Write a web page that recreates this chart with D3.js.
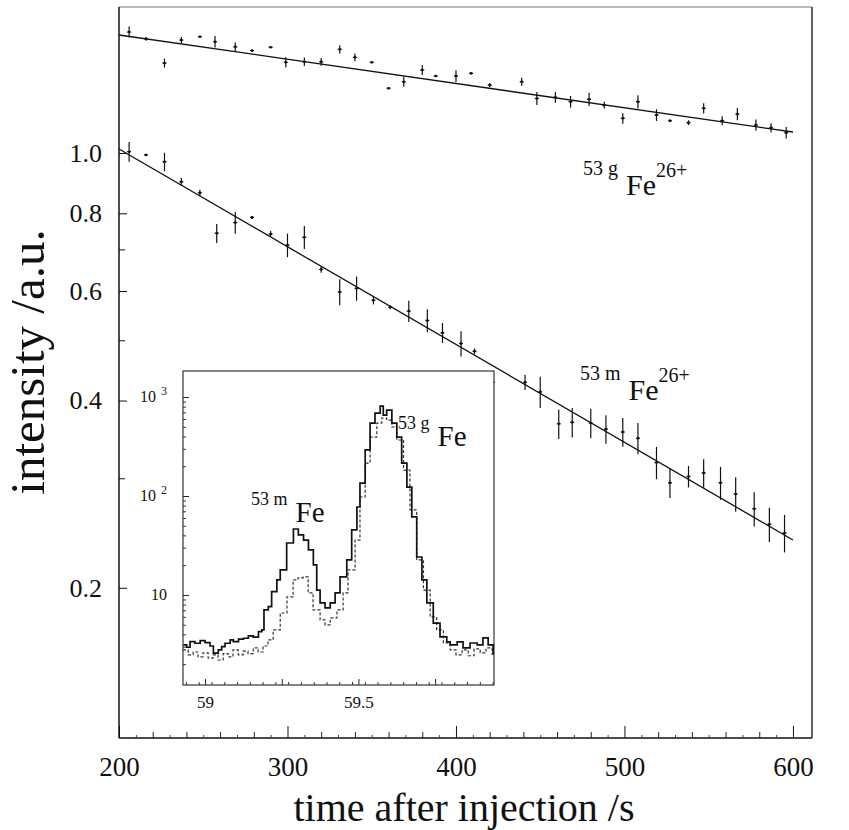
<meta charset="utf-8">
<html>
<head>
<style>
  body { margin: 0; background: #fff; }
  svg { display: block; }
  text { font-family: "Liberation Serif", "Times New Roman", serif; fill: #111; }
</style>
</head>
<body>
<script src="https://d3js.org/d3.v7.min.js"></script>
<div id="chart"></div>
<script>

// ---- data ----
// ground state 53gFe26+ (upper series)
var gTime = [206,216,227,237,248,257,269,279,290,299,310,320,331,340,350,360,369,380,388,400,
             409,420,439,448,459,468,479,488,499,508,519,527,538,547,558,567,578,587,596];
var gVal  = [1.565,1.526,1.395,1.519,1.538,1.510,1.482,1.461,1.479,1.399,1.402,1.402,1.468,1.425,1.399,
             1.271,1.302,1.360,1.330,1.330,1.343,1.286,1.302,1.224,1.229,1.209,1.220,1.194,1.137,1.209,
             1.151,1.127,1.119,1.180,1.127,1.155,1.109,1.098,1.078];
var gErr  = [0.032,0.010,0.023,0.017,0.005,0.032,0.023,0.005,0.005,0.026,0.022,0.020,0.023,0.021,0.005,
             0.005,0.024,0.025,0.005,0.029,0.005,0.010,0.019,0.029,0.024,0.026,0.030,0.015,0.022,0.030,
             0.025,0.005,0.010,0.022,0.019,0.026,0.023,0.019,0.023];

// isomer 53mFe26+ (lower series)
var mTime = [206,216,227,237,248,258,269,279,290,300,310,320,331,341,351,361,372,383,392,403,
             411,422,441,450,461,469,480,489,499,508,519,527,538,547,557,566,577,586,595];
var mVal  = [1.005,0.993,0.968,0.899,0.863,0.743,0.773,0.788,0.741,0.711,0.732,0.650,0.598,0.606,0.580,
             0.565,0.557,0.538,0.514,0.494,0.480,0.428,0.428,0.413,0.367,0.369,0.368,0.360,0.356,0.348,
             0.318,0.295,0.302,0.306,0.295,0.283,0.268,0.253,0.245];
var mErr  = [0.037,0.004,0.033,0.013,0.010,0.026,0.031,0.004,0.008,0.031,0.031,0.008,0.029,0.027,0.009,
             0.004,0.022,0.023,0.019,0.023,0.005,0.012,0.012,0.024,0.020,0.020,0.020,0.019,0.019,0.020,
             0.019,0.016,0.012,0.016,0.018,0.018,0.017,0.016,0.017];

// exponential fits (straight on the log axis)
var fitTime = [200, 600];
var gFit = [1.548, 1.081];
var mFit = [1.015, 0.2387];

// inset: Schottky spectrum, solid and dashed traces
var solidFreq = [58.929,58.940,58.951,58.967,58.984,59.000,59.016,59.027,59.043,59.054,59.065,59.082,59.092,
                 59.109,59.125,59.141,59.157,59.174,59.185,59.192,59.206,59.217,59.234,59.245,59.266,59.288,
                 59.304,59.321,59.337,59.353,59.364,59.375,59.391,59.408,59.424,59.440,59.462,59.478,59.495,
                 59.505,59.522,59.538,59.554,59.571,59.581,59.592,59.609,59.625,59.641,59.658,59.674,59.690,
                 59.707,59.723,59.744,59.766,59.788,59.799,59.822,59.841,59.864,59.887,59.906,59.923,59.939];
var solidCount = [3.13,2.96,3.37,3.25,3.45,3.30,3.05,2.58,2.78,3.00,3.25,3.51,3.37,
                  3.57,3.65,3.86,3.74,4.26,4.43,7.05,7.62,10.8,14.2,17.9,33.5,46.4,
                  40.4,35.9,28.5,20.1,11.2,8.3,7.4,8.3,10.5,15.2,22.6,45.4,77.4,
                  135,292,546,689,811,658,739,546,394,215,123,61.4,24.2,
                  14.2,8.3,5.2,3.77,3.35,3.13,3.35,2.92,3.27,3.13,3.68,3.13,2.48];
var dashFreq = [58.928,58.945,58.961,58.977,58.993,59.010,59.026,59.042,59.059,59.075,59.091,59.108,59.124,
                59.140,59.157,59.173,59.189,59.205,59.222,59.245,59.267,59.287,59.303,59.320,59.336,59.352,
                59.375,59.391,59.408,59.430,59.450,59.466,59.489,59.505,59.522,59.538,59.560,59.576,59.592,
                59.609,59.625,59.647,59.668,59.690,59.712,59.734,59.755,59.777,59.799,59.818,59.838,59.858,
                59.877,59.897,59.916,59.936];
var dashCount = [2.78,2.48,2.65,2.37,2.60,2.30,2.48,2.20,2.55,2.37,2.78,2.48,2.70,
                 2.55,2.92,2.65,3.05,3.51,4.43,6.57,9.55,14.2,14.9,15.2,10.5,7.05,
                 5.59,4.98,5.86,7.05,10.5,17.9,35.9,97.7,215,394,546,614,586,
                 498,368,183,72.3,22.6,11.2,6.0,4.43,3.27,2.78,2.48,2.78,2.43,
                 2.85,2.60,2.92,2.48];

// tick values
var xMajor = [200, 300, 400, 500, 600];
var yLabeled = [1.0, 0.8, 0.6, 0.4, 0.2];
var yUnlabeled = [0.7, 0.5, 0.3];
var insetXLabeled = [59, 59.5];
var insetXMajor = [59, 59.25, 59.5, 59.75];
var insetYMajor = [10, 100, 1000];

// ---- layout ----
var W = 849, H = 830;
var svg = d3.select("#chart").append("svg")
    .attr("width", W).attr("height", H);
svg.append("rect").attr("width", W).attr("height", H).attr("fill", "#fff");

var x = d3.scaleLinear().domain([200, 611.3]).range([119, 812]);
var y = d3.scaleLog().domain([0.1147, 1.717]).range([738, 7]);

var ix = d3.scaleLinear().domain([58.928, 59.942]).range([183, 494]);
var iy = d3.scaleLog().domain([1.23, 1834]).range([685, 371]);

var serif = '"Liberation Serif", "Times New Roman", serif';

// frame of the main plot
svg.append("line").attr("x1", 119).attr("x2", 812).attr("y1", 7).attr("y2", 7)
    .attr("stroke", "#777").attr("stroke-width", 1);
svg.append("line").attr("x1", 812).attr("x2", 812).attr("y1", 7).attr("y2", 738)
    .attr("stroke", "#222").attr("stroke-width", 1.4);
svg.append("line").attr("x1", 119).attr("x2", 119).attr("y1", 7).attr("y2", 738)
    .attr("stroke", "#111").attr("stroke-width", 1.5);
svg.append("line").attr("x1", 119).attr("x2", 812).attr("y1", 738).attr("y2", 738)
    .attr("stroke", "#111").attr("stroke-width", 1.5);

// x axis, ticks pointing inward
var xAxis = svg.append("g").attr("transform", "translate(0,738)")
    .call(d3.axisBottom(x).tickValues(xMajor).tickSizeInner(-12).tickSizeOuter(0).tickPadding(19)
          .tickFormat(d3.format("d")));
xAxis.select(".domain").remove();
xAxis.selectAll("text").attr("font-family", serif).attr("font-size", 27).attr("fill", "#111");
xAxis.selectAll("line").attr("stroke", "#111");

svg.append("g").attr("transform", "translate(0,738)")
    .call(d3.axisBottom(x).tickValues(d3.range(220, 600, 20).filter(function(d) { return d % 100 != 0; }))
          .tickSizeInner(-6).tickSizeOuter(0).tickFormat(""))
    .call(function(g) { g.select(".domain").remove(); g.selectAll("line").attr("stroke", "#222"); });

svg.append("g").attr("transform", "translate(0,738)")
    .call(d3.axisBottom(x).tickValues(d3.range(210, 610, 20)).tickSizeInner(-3).tickSizeOuter(0).tickFormat(""))
    .call(function(g) { g.select(".domain").remove(); g.selectAll("line").attr("stroke", "#444"); });

// y axis (log), ticks pointing inward
var yAxis = svg.append("g").attr("transform", "translate(119,0)")
    .call(d3.axisLeft(y).tickValues(yLabeled).tickSizeInner(-8).tickSizeOuter(0).tickPadding(17)
          .tickFormat(d3.format(".1f")));
yAxis.select(".domain").remove();
yAxis.selectAll("text").attr("font-family", serif).attr("font-size", 26).attr("fill", "#111");
yAxis.selectAll("line").attr("stroke", "#111");

svg.append("g").attr("transform", "translate(119,0)")
    .call(d3.axisLeft(y).tickValues(yUnlabeled).tickSizeInner(-6).tickSizeOuter(0).tickFormat(""))
    .call(function(g) { g.select(".domain").remove(); g.selectAll("line").attr("stroke", "#111"); });

// axis titles
svg.append("text")
    .attr("x", 464).attr("y", 821)
    .attr("text-anchor", "middle")
    .attr("font-size", 40)
    .text("time after injection /s");

svg.append("text")
    .attr("transform", "translate(44,362) rotate(-90)")
    .attr("text-anchor", "middle")
    .attr("font-size", 49)
    .text("intensity /a.u.");

// fit lines
var fitLine = d3.line()
    .x(function(d) { return x(d[0]); })
    .y(function(d) { return y(d[1]); });

[gFit, mFit].forEach(function(f) {
  svg.append("path")
      .datum(fitTime.map(function(t, i) { return [t, f[i]]; }))
      .attr("d", fitLine)
      .attr("fill", "none")
      .attr("stroke", "#111")
      .attr("stroke-width", 1.3);
});

// data points with error bars
function drawSeries(times, vals, errs) {
  var pts = times.map(function(t, i) { return {t: t, v: vals[i], e: errs[i]}; });
  var g = svg.append("g");
  g.selectAll(".bar").data(pts).enter().append("line")
      .attr("x1", function(d) { return x(d.t); })
      .attr("x2", function(d) { return x(d.t); })
      .attr("y1", function(d) { return y(d.v - d.e); })
      .attr("y2", function(d) { return y(d.v + d.e); })
      .attr("stroke", "#111").attr("stroke-width", 1.2);
  g.selectAll(".tick").data(pts).enter().append("line")
      .attr("x1", function(d) { return x(d.t) - 2; })
      .attr("x2", function(d) { return x(d.t) + 2; })
      .attr("y1", function(d) { return y(d.v); })
      .attr("y2", function(d) { return y(d.v); })
      .attr("stroke", "#111").attr("stroke-width", 1.2);
  g.selectAll("circle").data(pts).enter().append("circle")
      .attr("cx", function(d) { return x(d.t); })
      .attr("cy", function(d) { return y(d.v); })
      .attr("r", 1.3)
      .attr("fill", "#111");
}
drawSeries(gTime, gVal, gErr);
drawSeries(mTime, mVal, mErr);

// series labels
function isoLabel(x0, yBase, mass) {
  var t = svg.append("text").attr("x", x0).attr("y", yBase - 20).attr("font-size", 20);
  t.append("tspan").text(mass);
  t.append("tspan").attr("font-size", 30).attr("dx", 8).attr("dy", 20).text("Fe");
  t.append("tspan").attr("dy", -18).text("26+");
}
isoLabel(583, 195, "53 g");
isoLabel(580, 400, "53 m");

// ---- inset ----
var inset = svg.append("g");
inset.append("rect")
    .attr("x", 183).attr("y", 371).attr("width", 311).attr("height", 314)
    .attr("fill", "#fff").attr("stroke", "#222").attr("stroke-width", 1.1);

svg.append("clipPath").attr("id", "insetClip")
  .append("rect").attr("x", 183).attr("y", 371).attr("width", 311).attr("height", 314);

var trace = d3.line()
    .curve(d3.curveStepAfter)
    .x(function(d) { return ix(d[0]); })
    .y(function(d) { return iy(d[1]); });

inset.append("path")
    .datum(dashFreq.map(function(f, i) { return [f, dashCount[i]]; }))
    .attr("d", trace)
    .attr("clip-path", "url(#insetClip)")
    .attr("fill", "none").attr("stroke", "#333").attr("stroke-width", 1.2)
    .attr("stroke-dasharray", "3,2");

inset.append("path")
    .datum(solidFreq.map(function(f, i) { return [f, solidCount[i]]; }))
    .attr("d", trace)
    .attr("clip-path", "url(#insetClip)")
    .attr("fill", "none").attr("stroke", "#111").attr("stroke-width", 1.7);

// inset x ticks
var ixAxis = inset.append("g").attr("transform", "translate(0,685)")
    .call(d3.axisBottom(ix).tickValues(insetXMajor).tickSizeInner(-6).tickSizeOuter(0).tickPadding(11)
          .tickFormat(function(d) { return insetXLabeled.indexOf(d) >= 0 ? d : ""; }));
ixAxis.select(".domain").remove();
ixAxis.selectAll("text").attr("font-family", serif).attr("font-size", 17).attr("fill", "#111");
ixAxis.selectAll("line").attr("stroke", "#222");

inset.append("g").attr("transform", "translate(0,685)")
    .call(d3.axisBottom(ix).tickValues(d3.range(58.9375, 59.94, 0.25 / 6)).tickSizeInner(-3).tickSizeOuter(0).tickFormat(""))
    .call(function(g) { g.select(".domain").remove(); g.selectAll("line").attr("stroke", "#333"); });

// inset y ticks (log)
var minorY = [];
[1, 10, 100, 1000].forEach(function(dec) {
  for (var k = 2; k <= 9; k++) { if (dec * k < 1834 && dec * k > 1.23) minorY.push(dec * k); }
});
inset.append("g").attr("transform", "translate(183,0)")
    .call(d3.axisLeft(iy).tickValues(insetYMajor).tickSizeInner(-6).tickSizeOuter(0).tickFormat(""))
    .call(function(g) { g.select(".domain").remove(); g.selectAll("line").attr("stroke", "#222"); });
inset.append("g").attr("transform", "translate(183,0)")
    .call(d3.axisLeft(iy).tickValues(minorY).tickSizeInner(-3).tickSizeOuter(0).tickFormat(""))
    .call(function(g) { g.select(".domain").remove(); g.selectAll("line").attr("stroke", "#333"); });

insetYMajor.forEach(function(v) {
  var e = Math.round(Math.log10(v));
  var t = inset.append("text").attr("y", iy(v) + 5).attr("font-size", 16);
  if (e === 1) {
    t.attr("x", 167).attr("text-anchor", "end").text("10");
  } else {
    t.attr("x", 140).text("10");
    t.append("tspan").attr("dx", 5).attr("dy", -7).attr("font-size", 12).text(e);
  }
});

// inset peak labels
function peakLabel(x0, yBase, mass) {
  var t = inset.append("text").attr("x", x0).attr("y", yBase - 17).attr("font-size", 18);
  t.append("tspan").text(mass);
  t.append("tspan").attr("font-size", 29).attr("dx", 8).attr("dy", 17).text("Fe");
}
peakLabel(251, 522, "53 m");
peakLabel(398, 446, "53 g");

</script>
</body>
</html>
